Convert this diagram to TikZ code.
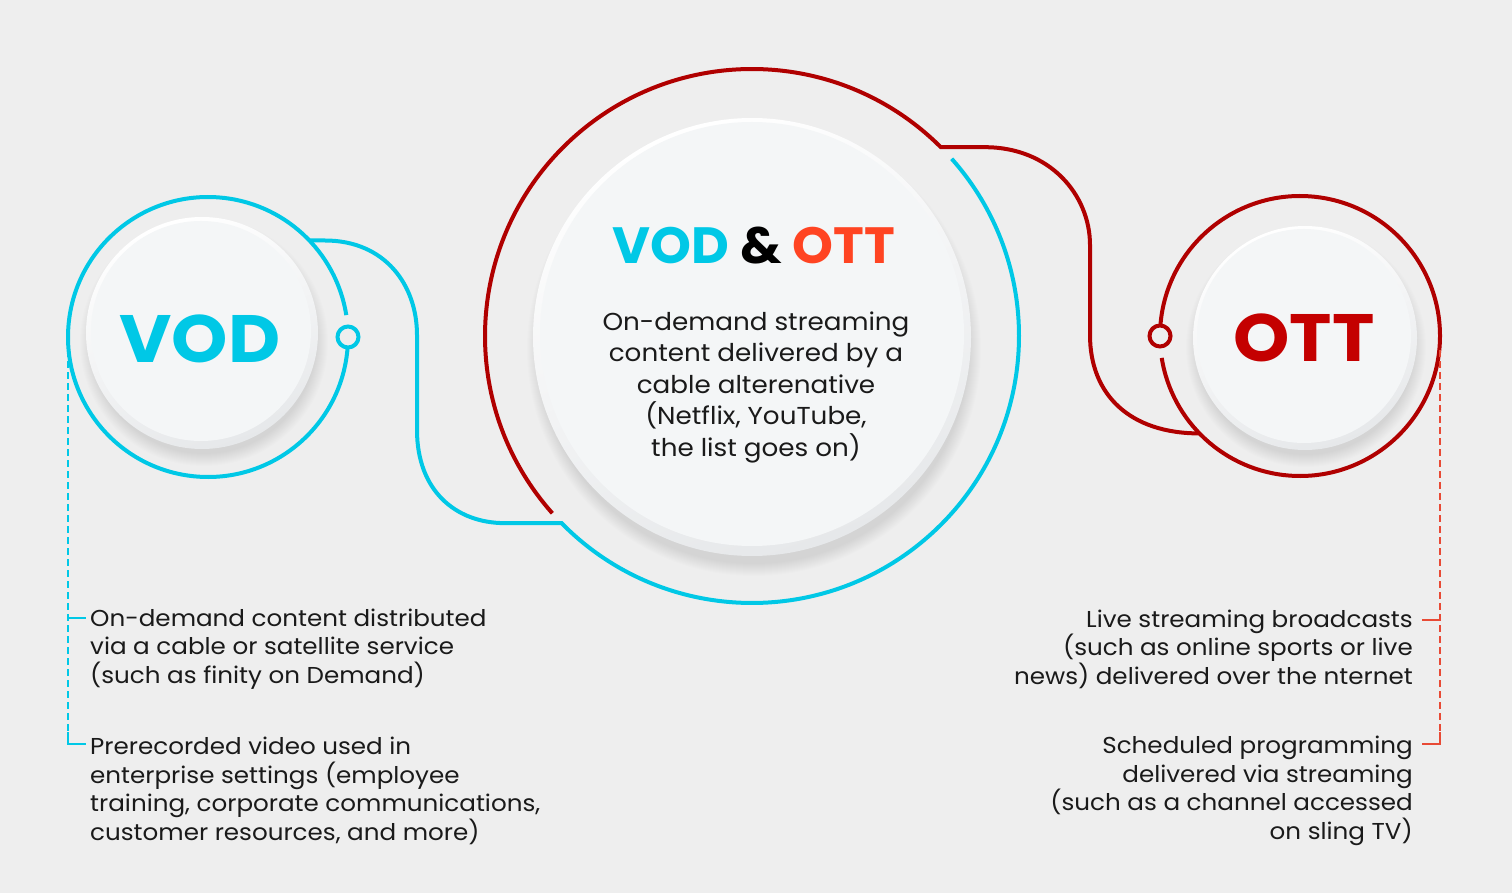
\documentclass[tikz,border=0pt]{standalone}
\usepackage{fontspec}
\setmainfont{Poppins}[FakeStretch=1.07]
\newfontfamily\headfont{Poppins}[FakeStretch=1.02]
\usetikzlibrary{calc}
\definecolor{bg}{HTML}{EEEEEE}
\definecolor{cyanc}{HTML}{00C8E6}
\definecolor{darkred}{HTML}{B00000}
\definecolor{ottred}{HTML}{C40000}
\definecolor{orangered}{HTML}{FF4422}
\definecolor{dashred}{HTML}{E84A35}
\definecolor{discc}{HTML}{F4F6F7}
\definecolor{rimlo}{HTML}{E6E8EA}
\definecolor{textc}{HTML}{1A1A1A}
\begin{document}
\begin{tikzpicture}[x=1pt,y=-1pt,
  ring/.style={line width=4pt},
  knob/.style={circle, draw, line width=4pt, minimum size=21pt, inner sep=0pt},
  dashline/.style={line width=1.5pt, dash pattern=on 7pt off 4pt},
  tickline/.style={line width=1.5pt},
  body/.style={font=\fontsize{23}{28.6}\selectfont, text=textc, inner sep=0pt},
  centerbody/.style={font=\fontsize{24.5}{31.5}\selectfont, text=textc, inner sep=0pt, align=center},
  disc/.style={circle, fill=discc, inner sep=0pt},
  bigword/.style={font=\fontsize{67}{67}\selectfont\bfseries, inner sep=0pt}
]
\fill[bg] (0,0) rectangle (1512,893);
\useasboundingbox (0,0) rectangle (1512,893);

% centres of rings
\coordinate (vodc) at (208,337);
\coordinate (midc) at (752,336);
\coordinate (ottc) at (1300,336);

% ---- shadows
\foreach \k in {0,...,12} {
  \fill[black, opacity=0.009] (204,342) circle[radius=112+\k];
  \fill[black, opacity=0.009] (1306,347) circle[radius=108+\k];
  \fill[black, opacity=0.009] (754,349) circle[radius=215+\k];
}
% ---- rims
\shade[top color=white, bottom color=rimlo, shading angle=20] (202,333) circle[radius=116];
\shade[top color=white, bottom color=rimlo, shading angle=20] (1305,338) circle[radius=112];
\shade[top color=white, bottom color=rimlo, shading angle=20] (752,337) circle[radius=219];
% ---- discs
\node[disc, minimum size=220pt] (voddisc) at (201,331) {};
\node[disc, minimum size=214pt] (ottdisc) at (1304,336) {};
\node[disc, minimum size=424pt] (middisc) at (752,334) {};

% ---- rings
\draw[ring, cyanc] (vodc) ++(4.3:140) arc[start angle=4.3, end angle=351, radius=140];
\draw[ring, darkred] (ottc) ++(184.3:140) arc[start angle=184.3, end angle=531, radius=140];
\node[knob, draw=cyanc] (vodknob) at ($(vodc)+(0:140)$) {};
\node[knob, draw=darkred] (ottknob) at ($(ottc)+(180:140)$) {};

\coordinate (redjoin) at ($(midc)+(315:267)$);
\coordinate (ottjoin) at ($(ottc)+(135.9:140)$);
\coordinate (bluejoin) at ($(midc)+(135.5:267)$);
\coordinate (vodjoin) at ($(vodc)+(-43.6:140)$);

\draw[ring, darkred] (midc) ++(138.4:267) arc[start angle=138.4, end angle=315, radius=267]
  -- (redjoin -| 985,0) .. controls (1050,147.2) and (1090,195) .. (1090,245)
  -- (1090,335) .. controls (1090,395) and (1130,433.4) .. (ottjoin);
\draw[ring, cyanc] (midc) ++(-41.6:267) arc[start angle=-41.6, end angle=135.5, radius=267]
  -- (bluejoin -| 505,0) .. controls (455,523.1) and (417,490) .. (417,430)
  -- (417,335) .. controls (417,285) and (385,240.5) .. (325,240.5) -- (vodjoin);

% ---- dashed brackets
\coordinate (lt) at (68,350);
\coordinate (lb) at (68,744);
\draw[dashline, cyanc] (lt) -- (lb);
\draw[tickline, cyanc] (68,618) -- (86,618);
\draw[tickline, cyanc] (68,732) -- (lb) -- (86,744);
\coordinate (rt) at (1440,350);
\coordinate (rb) at (1440,744);
\draw[dashline, dashred] (rt) -- (rb);
\draw[tickline, dashred] (1440,620) -- (1422,620);
\draw[tickline, dashred] (1440,732) -- (rb) -- (1422,744);

% ---- texts
\node[bigword, text=cyanc] (vodt) at (200,338.5) {VOD};
\node[bigword, text=ottred] (ottt) at (1304,337.5) {OTT};
\node[font=\headfont\fontsize{51}{51}\selectfont\bfseries, inner sep=0pt] (head) at (754,246)
  {\textcolor{cyanc}{VOD} \textcolor{black}{\&} \textcolor{orangered}{OTT}};
\node[centerbody] (midtext) at (756,387) {On-demand streaming\\content delivered by a\\cable alterenative\\(Netflix, YouTube,\\the list goes on)};

\node[body, anchor=west, align=left] (l1) at (90,649) {On-demand content distributed\\via a cable or satellite service\\(such as finity on Demand)};
\node[body, anchor=west, align=left] (l2) at (90,791) {Prerecorded video used in\\enterprise settings (employee\\training, corporate communications,\\customer resources, and more)};
\node[body, anchor=east, align=right] (r1) at (1413,649) {Live streaming broadcasts\\(such as online sports or live\\news) delivered over the nternet};
\node[body, anchor=east, align=right] (r2) at (1413,791) {Scheduled programming\\delivered via streaming\\(such as a channel accessed\\on sling TV)};
\end{tikzpicture}
\end{document}
